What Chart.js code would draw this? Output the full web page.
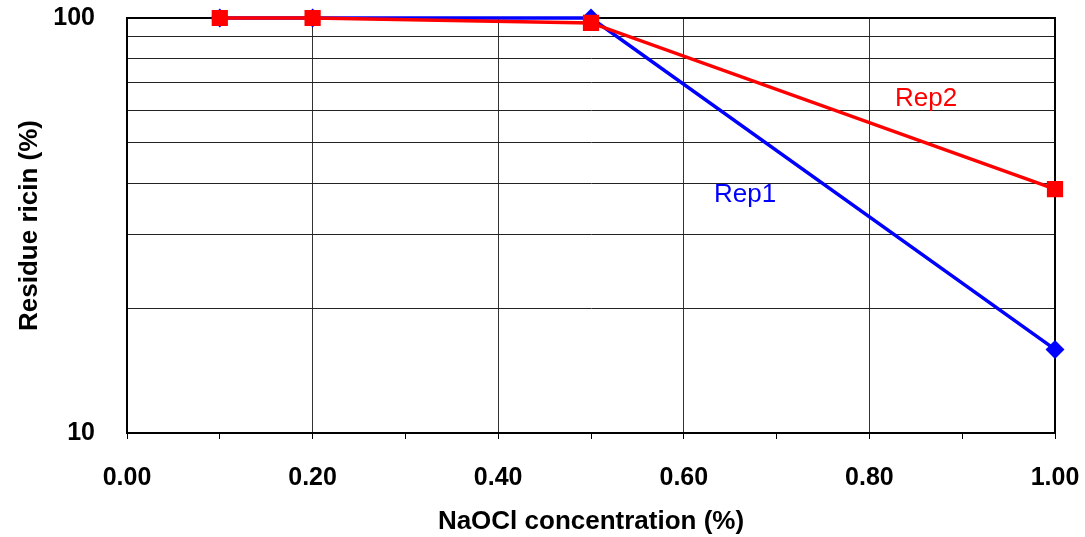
<!DOCTYPE html>
<html lang="en">
  <head>
    <meta charset="UTF-8" />
    <title>Residue ricin</title>
    <script src="https://cdn.jsdelivr.net/npm/chart.js"></script>
    <style>
      html, body { margin: 0; padding: 0; background: #fff; }
      #wrap { width: 1085px; height: 537px; }
    </style>
  </head>
  <body>
    <div id="wrap"><canvas id="chart"></canvas></div>
    <script>
      // NaOCl concentration (%) and residue ricin (%)
      const rep1X = [0.1, 0.2, 0.5, 1.0];
      const rep1Y = [100, 100, 100, 15.9];
      const rep2X = [0.1, 0.2, 0.5, 1.0];
      const rep2Y = [100, 100, 97.3, 38.7];

      // y gridlines (log axis), only ends get a label
      const yTicks = [10, 20, 30, 40, 50, 60, 70, 80, 90, 100];
      const yLabelled = [10, 100];

      // series name labels, in data units
      const seriesNames = ["Rep1", "Rep2"];
      const nameX = [0.666, 0.861];
      const nameY = [37.5, 63.8];
      const nameColors = ["#0000ff", "#ff0000"];

      const FONT = "Arial, 'Liberation Sans', sans-serif";

      const toPoints = (xs, ys) => xs.map((x, i) => ({ x: x, y: ys[i] }));

      // plot frame under the lines, series names on top
      const extras = {
        id: "extras",
        beforeDatasetsDraw(chart) {
          const c = chart.ctx;
          const a = chart.chartArea;
          c.save();
          c.strokeStyle = "#000";
          c.lineWidth = 2;
          c.strokeRect(a.left, a.top, a.right - a.left, a.bottom - a.top);
          c.restore();
        },
        afterDraw(chart) {
          const c = chart.ctx;
          c.save();
          c.font = "26px " + FONT;
          c.textAlign = "center";
          c.textBaseline = "middle";
          seriesNames.forEach((n, i) => {
            c.fillStyle = nameColors[i];
            c.fillText(n, chart.scales.x.getPixelForValue(nameX[i]), chart.scales.y.getPixelForValue(nameY[i]));
          });
          c.restore();
        },
      };

      new Chart(document.getElementById("chart"), {
        type: "line",
        data: {
          datasets: [
            {
              label: "Rep2",
              data: toPoints(rep2X, rep2Y),
              borderColor: "#ff0000",
              backgroundColor: "#ff0000",
              borderWidth: 3.5,
              pointStyle: "rect",
              pointRadius: 9,
              pointHoverRadius: 9,
              tension: 0,
              clip: false,
            },
            {
              label: "Rep1",
              data: toPoints(rep1X, rep1Y),
              borderColor: "#0000ff",
              backgroundColor: "#0000ff",
              borderWidth: 3.5,
              pointStyle: "rectRot",
              pointRadius: 7,
              pointHoverRadius: 7,
              tension: 0,
              clip: false,
            },
          ],
        },
        options: {
          responsive: true,
          maintainAspectRatio: false,
          animation: false,
          layout: { padding: { top: 18, right: 30, left: 0, bottom: 0 } },
          plugins: { legend: { display: false }, tooltip: { enabled: false } },
          scales: {
            x: {
              type: "linear",
              min: 0,
              max: 1,
              ticks: {
                stepSize: 0.1,
                padding: 24,
                color: "#000",
                font: { family: FONT, size: 25, weight: "bold" },
                maxRotation: 0,
                autoSkip: false,
                callback: (v) => (Math.round(v * 10) % 2 === 0 ? v.toFixed(2) : ""),
              },
              grid: {
                color: (ctx) => (ctx.index % 2 === 0 ? "#333" : "rgba(0,0,0,0)"),
                tickColor: "#000",
                tickLength: 6,
                lineWidth: 1,
              },
              border: { color: "#000", width: 2 },
              title: {
                display: true,
                text: "NaOCl concentration (%)",
                color: "#000",
                font: { family: FONT, size: 26, weight: "bold" },
                padding: { top: 0, bottom: 0 },
              },
              afterFit: (s) => {
                s.height = 104;
                s.paddingLeft = 0;
                s.paddingRight = 0;
              },
            },
            y: {
              type: "logarithmic",
              min: 10,
              max: 100,
              afterBuildTicks: (s) => { s.ticks = yTicks.map((v) => ({ value: v })); },
              ticks: {
                padding: 32,
                color: "#000",
                font: { family: FONT, size: 25, weight: "bold" },
                autoSkip: false,
                callback: (v) => (yLabelled.includes(v) ? String(v) : ""),
              },
              grid: { color: "#222", lineWidth: 1, drawTicks: false },
              border: { color: "#000", width: 2 },
              title: {
                display: true,
                text: "Residue ricin (%)",
                color: "#000",
                font: { family: FONT, size: 26, weight: "bold" },
                padding: { top: 14, bottom: 0 },
              },
              afterFit: (s) => {
                s.width = 127;
                s.paddingTop = 0;
                s.paddingBottom = 0;
              },
            },
          },
        },
        plugins: [extras],
      });
    </script>
  </body>
</html>
